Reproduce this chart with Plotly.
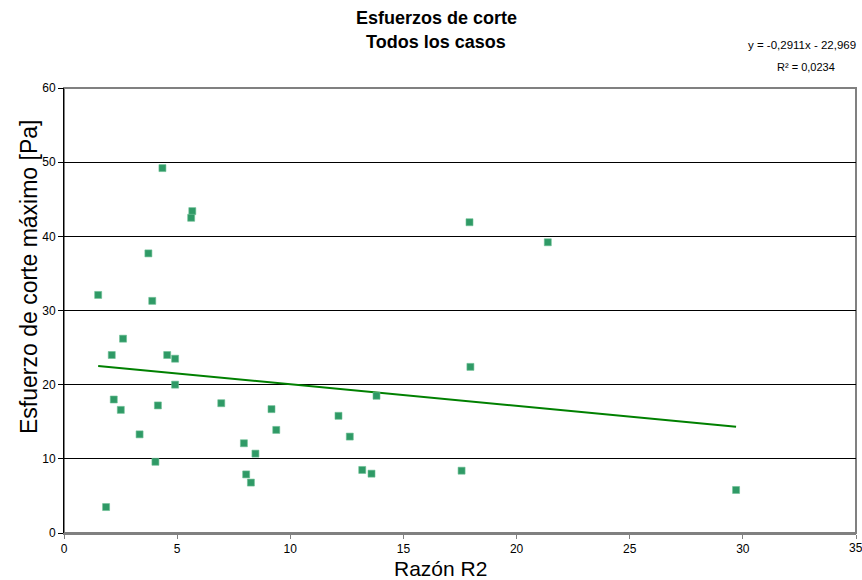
import plotly.graph_objects as go

razon_r2 = [4.35, 5.67, 5.62, 3.73, 1.51, 3.90, 2.61, 2.11, 4.56, 4.91, 4.91,
            2.20, 2.51, 4.15, 3.34, 4.04, 1.86, 6.95, 9.17, 9.38, 7.95, 8.46,
            8.05, 8.26, 17.96, 13.81, 12.13, 12.63, 13.18, 13.59, 17.57, 17.92,
            21.38, 29.70]
esfuerzo = [49.2, 43.4, 42.5, 37.7, 32.1, 31.3, 26.2, 24.0, 24.0, 23.5, 20.0,
            18.0, 16.6, 17.2, 13.3, 9.6, 3.5, 17.5, 16.7, 13.9, 12.1, 10.7,
            7.9, 6.8, 22.4, 18.5, 15.8, 13.0, 8.5, 8.0, 8.4, 41.9,
            39.2, 5.8]

slope = -0.2911
intercept = 22.969
trend_x = [min(razon_r2), max(razon_r2)]
trend_y = [slope * v + intercept for v in trend_x]

x_ticks = [0, 5, 10, 15, 20, 25, 30, 35]
y_ticks = [0, 10, 20, 30, 40, 50, 60]

font = "Liberation Sans, Arial, sans-serif"

W, H = 862, 580
L, R, T, B = 64, 6, 88, 47
PW, PH = W - L - R, H - T - B


def px_x(px):
    return (px - L) / PW


def px_y(py):
    return (H - B - py) / PH


fig = go.Figure()
fig.add_trace(go.Scatter(
    x=trend_x, y=trend_y, mode="lines",
    line=dict(color="#008000", width=2), showlegend=False, hoverinfo="skip"))
fig.add_trace(go.Scatter(
    x=razon_r2, y=esfuerzo, mode="markers",
    marker=dict(symbol="square", size=7, color="#2f9a66",
                line=dict(color="#6cbf94", width=0.6)),
    showlegend=False))

annotations = [
    dict(text="<b>Esfuerzos de corte</b>", xref="paper", yref="paper",
         x=px_x(436), y=px_y(18), xanchor="center", yanchor="middle",
         showarrow=False, font=dict(size=18, family=font)),
    dict(text="<b>Todos los casos</b>", xref="paper", yref="paper",
         x=px_x(436), y=px_y(42), xanchor="center", yanchor="middle",
         showarrow=False, font=dict(size=18, family=font)),
    dict(text="y = -0,2911x - 22,969", xref="paper", yref="paper",
         x=px_x(858), y=px_y(45), xanchor="right", yanchor="middle",
         showarrow=False, font=dict(size=11.5, family=font)),
    dict(text="R² = 0,0234", xref="paper", yref="paper",
         x=px_x(837), y=px_y(67), xanchor="right", yanchor="middle",
         showarrow=False, font=dict(size=11, family=font)),
    dict(text=str(x_ticks[-1]), xref="x", yref="paper",
         x=x_ticks[-1], y=px_y(548), xanchor="center", yanchor="middle",
         showarrow=False, font=dict(size=12, family=font)),
    dict(text="Razón R2", xref="paper", yref="paper",
         x=px_x(440), y=px_y(568), xanchor="center", yanchor="middle",
         showarrow=False, font=dict(size=21, family=font)),
    dict(text="Esfuerzo de corte máximo [Pa]", xref="paper", yref="paper",
         x=px_x(29), y=px_y(277), xanchor="center", yanchor="middle",
         textangle=-90, showarrow=False, font=dict(size=23, family=font)),
]

fig.update_layout(
    width=W, height=H,
    margin=dict(l=L, r=R, t=T, b=B),
    paper_bgcolor="white", plot_bgcolor="white",
    font=dict(family=font, color="black"),
    xaxis=dict(range=[0, 35], tickvals=x_ticks, showgrid=False, zeroline=False,
               showline=True, linecolor="#808080", linewidth=2,
               ticks="outside", ticklen=4, tickcolor="#808080",
               tickfont=dict(size=12, family=font)),
    yaxis=dict(range=[0, 60], tickvals=y_ticks, showgrid=True,
               gridcolor="#000000", gridwidth=1, zeroline=False,
               showline=True, linecolor="#000000", linewidth=1,
               ticks="outside", ticklen=5, tickcolor="#000000",
               tickfont=dict(size=12, family=font)),
    shapes=[dict(type="rect", xref="paper", yref="paper", x0=0, y0=0, x1=1, y1=1,
                 line=dict(color="#808080", width=2), layer="below")],
    annotations=annotations,
)

fig.write_html("out.html")
